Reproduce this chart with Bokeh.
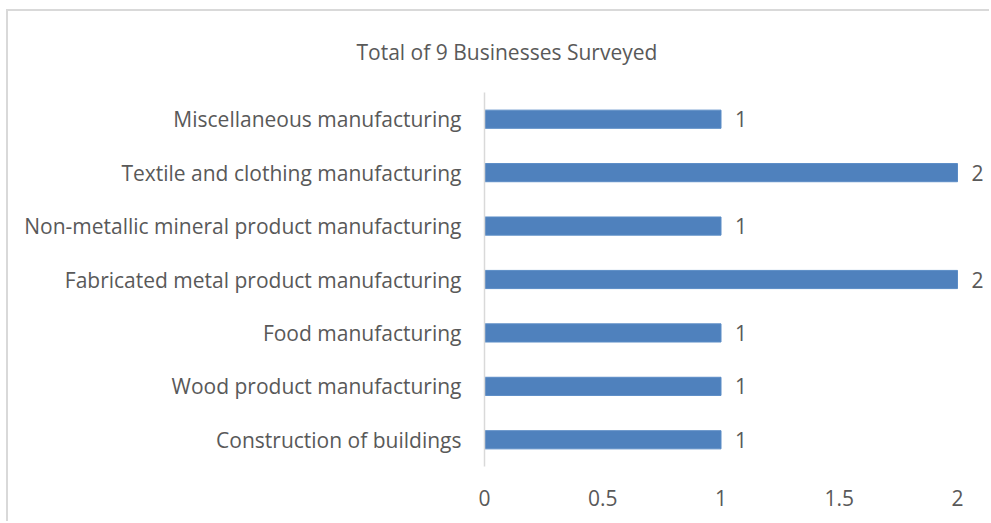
from bokeh.plotting import figure
from bokeh.models import FactorRange, Range1d, FixedTicker, ColumnDataSource, LabelSet, Title
from bokeh.core.properties import value
from bokeh.embed import file_html
from bokeh.resources import INLINE

categories = [
    "Construction of buildings",
    "Wood product manufacturing",
    "Food manufacturing",
    "Fabricated metal product manufacturing",
    "Non-metallic mineral product manufacturing",
    "Textile and clothing manufacturing",
    "Miscellaneous manufacturing",
]
counts = [1, 1, 1, 2, 1, 2, 1]
x_ticks = [0, 0.5, 1, 1.5, 2]
title_text = "Total of 9 Businesses Surveyed"

FONT = "Open Sans"
TXT = "#595959"
FS = "21px"

# page offsets for the light border drawn by CSS
OX, OY = 8, 11
W, H = 991 - OX, 523 - OY
FRAME_L, FRAME_T, FRAME_B = 484 - OX, 92 - OY, 466 - OY
X0_PX, X2_PX = 484, 957
x_end = 2 * (991 - X0_PX) / (X2_PX - X0_PX)

p = figure(width=W, height=H, output_backend="svg", toolbar_location=None,
           y_range=FactorRange(factors=categories, range_padding=0),
           x_range=Range1d(0, x_end),
           min_border_left=FRAME_L, min_border_right=0,
           min_border_top=FRAME_T, min_border_bottom=H - FRAME_B)
p.margin = (9, 0, 0, 6)
p.styles = {"border-top": "2px solid #D9D9D9", "border-left": "2px solid #D9D9D9"}
p.outline_line_color = None
p.background_fill_color = "white"
p.border_fill_color = "white"
p.grid.visible = False

src = ColumnDataSource(dict(cat=categories, val=counts, lab=[str(c) for c in counts]))
p.hbar(y="cat", right="val", left=0, height=0.34, source=src,
       fill_color="#4F81BD", line_color="#5B8CC6", line_width=1)

labels = LabelSet(x="val", y="cat", text="lab", source=src, x_offset=14,
                  text_baseline="middle", text_align="left",
                  text_font=value(FONT), text_font_size=FS, text_color=TXT)
p.add_layout(labels)

xa = p.xaxis[0]
xa.ticker = FixedTicker(ticks=x_ticks)
xa.axis_line_color = None
xa.major_tick_line_color = None
xa.minor_tick_line_color = None
xa.major_tick_out = 0
xa.major_label_standoff = 23
xa.major_label_text_font = FONT
xa.major_label_text_font_size = FS
xa.major_label_text_color = TXT
xa.major_label_overrides = {0: "0", 0.5: "0.5", 1: "1", 1.5: "1.5", 2: "2"}

ya = p.yaxis[0]
ya.axis_line_color = "#D9D9D9"
ya.axis_line_width = 1.5
ya.major_tick_line_color = None
ya.minor_tick_line_color = None
ya.major_tick_out = 0
ya.major_label_standoff = 23
ya.major_label_text_font = FONT
ya.major_label_text_font_size = FS
ya.major_label_text_color = TXT

title = Title(text=title_text, align="left", offset=-128, standoff=50,
              vertical_align="top",
              text_font=FONT, text_font_size=FS, text_color=TXT,
              text_font_style="normal")
p.add_layout(title, "above")

open("out.html", "w").write(file_html(p, INLINE))
